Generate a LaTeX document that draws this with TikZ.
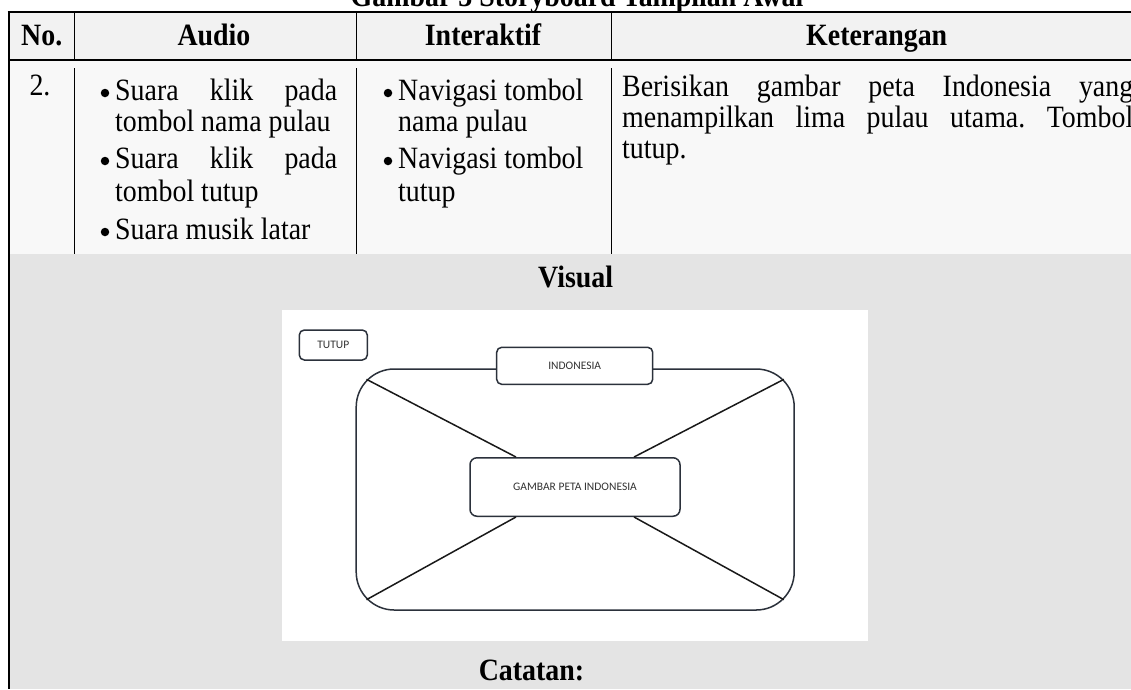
\documentclass[tikz,border=0pt]{standalone}
\usepackage{fontspec}
\setmainfont{Liberation Serif}[FakeStretch=0.9]
\newfontfamily\calfont{Carlito}
\usetikzlibrary{positioning,calc}
\definecolor{abukepala}{HTML}{F2F2F2}
\definecolor{abubaris}{HTML}{F8F8F8}
\definecolor{abuvisual}{HTML}{E4E4E4}
\definecolor{garis}{HTML}{2B313B}
\newcommand{\rata}[2]{\makebox[#1][s]{#2}}
\frenchspacing
\tikzset{
  isi/.style={font=\fontsize{31}{31}\selectfont, inner sep=0pt, anchor=base west},
  titik/.style={font=\fontsize{31}{31}\selectfont, inner sep=0pt, anchor=base},
  butir/.style={circle, fill=black, inner sep=0pt, minimum size=8.5pt},
  kepala/.style={font=\fontsize{31}{31}\selectfont\bfseries, inner sep=0pt, anchor=base},
  kotak/.style={draw=garis, line width=1.5pt, fill=white, rounded corners=5pt,
    font=\calfont\fontsize{11.5}{11.5}\selectfont, text=black!80, inner sep=0pt},
  diagonal/.style={line width=1.5pt, black!90}
}
\begin{document}
\begin{tikzpicture}[x=1pt,y=-1pt]
  \useasboundingbox (0,0) rectangle (1131,689);
  % latar tabel
  \fill[abukepala] (9.5,12.5) rectangle (1131,60);
  \fill[abubaris] (9.5,60) rectangle (1131,254);
  \fill[abuvisual] (9.5,254) rectangle (1131,689);
  \fill[white] (281.7,310) rectangle (868,641);
  % garis tabel
  \draw[line width=2pt] (7.5,11.5) -- (1131,11.5);
  \draw[line width=2pt] (8.5,11.5) -- (8.5,689);
  \draw[line width=1.1pt] (8.5,60) -- (1131,60);
  \foreach \x in {74.3,356.7,611.7} {
    \draw[line width=1.1pt] (\x,11.5) -- (\x,60);
    \draw[line width=1.1pt] (\x,68) -- (\x,254);
  }
  % judul dan kepala kolom
  \node[kepala] (judul) at (577,6) {Gambar 3 Storyboard Tampilan Awal};
  \node[kepala] (no) at (41.7,45) {No.};
  \node[kepala] (audio) at (214,45) {Audio};
  \node[kepala] (interaktif) at (483,45) {Interaktif};
  \node[kepala] (keterangan) at (876.7,45) {Keterangan};
  % isi baris
  \node[titik] (nomor) at (40,95) {2.};
  \node[butir] (b1) at (105,93) {};
  \node[isi] (a1) at (115,100) {\rata{222pt}{Suara klik pada}};
  \node[isi] (a2) at (115,131) {tombol nama pulau};
  \node[butir] (b2) at (105,161) {};
  \node[isi] (a3) at (115,168) {\rata{222pt}{Suara klik pada}};
  \node[isi] (a4) at (115,201) {tombol tutup};
  \node[butir] (b3) at (105,232) {};
  \node[isi] (a5) at (115,239) {Suara musik latar};
  \node[butir] (b4) at (388,93) {};
  \node[isi] (i1) at (398,100) {Navigasi tombol};
  \node[isi] (i2) at (398,131) {nama pulau};
  \node[butir] (b5) at (388,161) {};
  \node[isi] (i3) at (398,168) {Navigasi tombol};
  \node[isi] (i4) at (398,201) {tutup};
  \node[isi] (k1) at (622,96) {\rata{511pt}{Berisikan gambar peta Indonesia yang}};
  \node[isi] (k2) at (622,127) {\rata{511pt}{menampilkan lima pulau utama. Tombol}};
  \node[isi] (k3) at (622,158) {tutup.};
  % visual
  \node[kepala] (visual) at (575.7,287) {Visual};
  \node[kepala] (catatan) at (531.5,680) {Catatan:};
  \node[kotak, rounded corners=38pt, minimum width=438pt, minimum height=241pt] (bingkai) at (575.2,489.5) {};
  \node[kotak, minimum width=156pt, minimum height=37pt] (indonesia) at (574.7,365.8) {INDONESIA};
  \node[kotak, minimum width=68pt, minimum height=30pt] (tutup) at (333.3,345) {TUTUP};
  \node[kotak, rounded corners=7pt, minimum width=210pt, minimum height=58.5pt] (peta) at (575,487) {GAMBAR PETA INDONESIA};
  \coordinate (s1) at ($(bingkai.north west)+(11.1,11.1)$);
  \coordinate (s2) at ($(bingkai.north east)+(-11.1,11.1)$);
  \coordinate (s3) at ($(bingkai.south west)+(11.1,-11.1)$);
  \coordinate (s4) at ($(bingkai.south east)+(-11.1,-11.1)$);
  \draw[diagonal] (s1) -- ([xshift=46.7pt]peta.north west);
  \draw[diagonal] (s2) -- ([xshift=-46.7pt]peta.north east);
  \draw[diagonal] (s3) -- ([xshift=46.7pt]peta.south west);
  \draw[diagonal] (s4) -- ([xshift=-46.7pt]peta.south east);
\end{tikzpicture}
\end{document}
